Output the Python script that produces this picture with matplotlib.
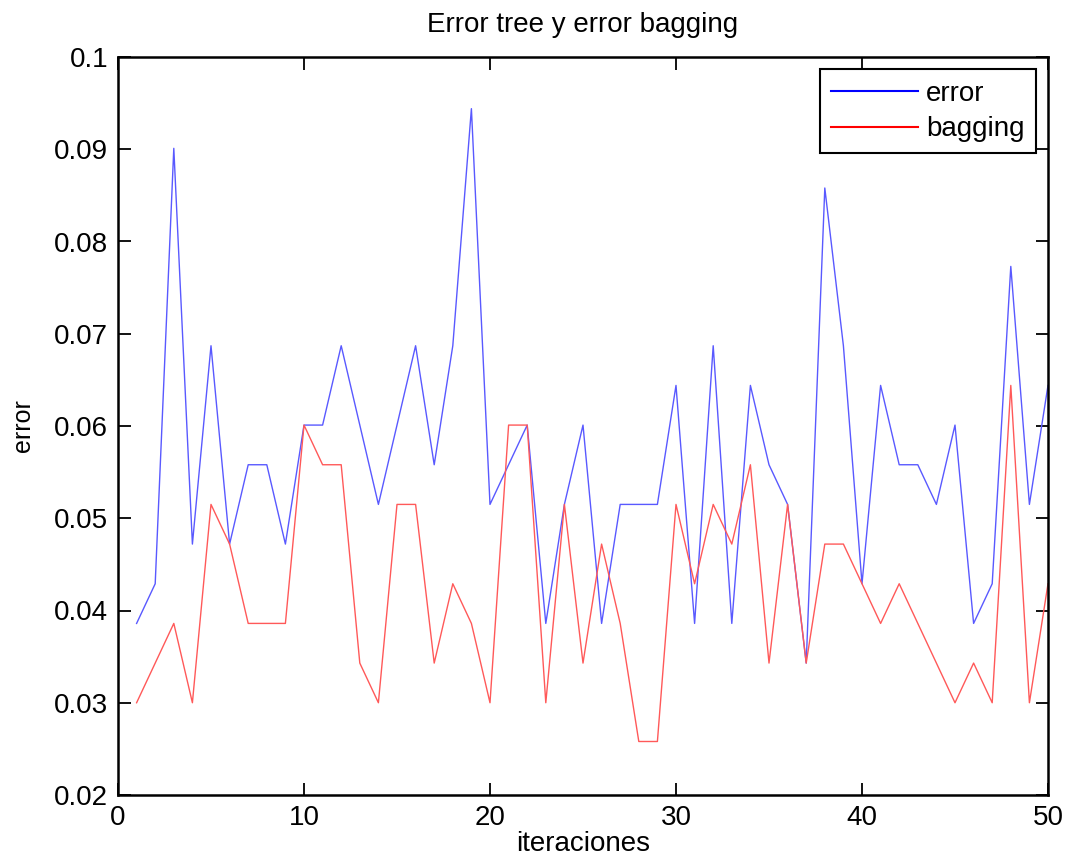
import matplotlib
matplotlib.use("Agg")
import matplotlib.pyplot as plt

iteraciones = list(range(1, 51))
error_tree = [0.0386, 0.0429, 0.0901, 0.0472, 0.0687, 0.0472, 0.0558, 0.0558, 0.0472, 0.0601,
              0.0601, 0.0687, 0.0601, 0.0515, 0.0601, 0.0687, 0.0558, 0.0687, 0.0944, 0.0515,
              0.0558, 0.0601, 0.0386, 0.0515, 0.0601, 0.0386, 0.0515, 0.0515, 0.0515, 0.0644,
              0.0386, 0.0687, 0.0386, 0.0644, 0.0558, 0.0515, 0.0343, 0.0858, 0.0687, 0.0429,
              0.0644, 0.0558, 0.0558, 0.0515, 0.0601, 0.0386, 0.0429, 0.0773, 0.0515, 0.0644]
error_bagging = [0.0300, 0.0343, 0.0386, 0.0300, 0.0515, 0.0472, 0.0386, 0.0386, 0.0386, 0.0601,
                 0.0558, 0.0558, 0.0343, 0.0300, 0.0515, 0.0515, 0.0343, 0.0429, 0.0386, 0.0300,
                 0.0601, 0.0601, 0.0300, 0.0515, 0.0343, 0.0472, 0.0386, 0.0258, 0.0258, 0.0515,
                 0.0429, 0.0515, 0.0472, 0.0558, 0.0343, 0.0515, 0.0343, 0.0472, 0.0472, 0.0429,
                 0.0386, 0.0429, 0.0386, 0.0343, 0.0300, 0.0343, 0.0300, 0.0644, 0.0300, 0.0429]
x_ticks = [0, 10, 20, 30, 40, 50]
y_ticks = [0.02, 0.03, 0.04, 0.05, 0.06, 0.07, 0.08, 0.09, 0.1]
y_tick_labels = ["0.02", "0.03", "0.04", "0.05", "0.06", "0.07", "0.08", "0.09", "0.1"]

W, H = 1069, 863
fig = plt.figure(figsize=(W / 100, H / 100), dpi=100)
ax = fig.add_axes([118 / W, 1 - 795 / H, (1048 - 118) / W, (795 - 57) / H])

ax.plot(iteraciones, error_tree, color=(0.35, 0.35, 1.0), lw=1.0, label="error")
ax.plot(iteraciones, error_bagging, color=(1.0, 0.35, 0.35), lw=1.0, label="bagging")

fam = ["Liberation Sans", "DejaVu Sans"]
ax.set_xlim(0, 50)
ax.set_ylim(0.02, 0.1)
ax.set_xticks(x_ticks)
ax.set_yticks(y_ticks)
ax.set_yticklabels(y_tick_labels)
ax.tick_params(direction="in", length=9, width=1.3, top=True, right=True, pad=7)
for lab in ax.get_yticklabels():
    lab.set_fontfamily(fam)
    lab.set_fontsize(20)
for lab in ax.get_xticklabels():
    lab.set_fontfamily(fam)
    lab.set_fontsize(20)
for sp in ax.spines.values():
    sp.set_linewidth(1.8)

ax.set_title("Error tree y error bagging", fontsize=20, family=fam, pad=18)
ax.set_xlabel("iteraciones", fontsize=20, family=fam, labelpad=0)
ax.set_ylabel("error", fontsize=18, family=fam, labelpad=14)

leg = ax.legend(loc="upper right", fancybox=False, edgecolor="black", framealpha=1,
                prop={"family": fam, "size": 20},
                handlelength=3.1, borderaxespad=0.45, labelspacing=0.35, borderpad=0.4,
                handletextpad=0.3)
leg.get_frame().set_linewidth(1.5)
for h, c in zip(leg.get_lines(), ["blue", "red"]):
    h.set_color(c)
    h.set_linewidth(1.5)

fig.savefig("out.png", dpi=100)
